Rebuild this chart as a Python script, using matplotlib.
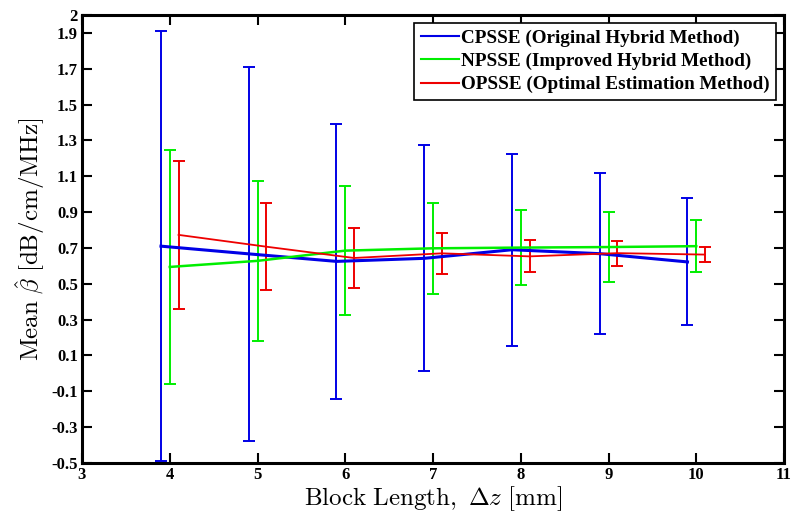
import matplotlib
matplotlib.use("Agg")
import matplotlib.pyplot as plt
from matplotlib.lines import Line2D
import numpy as np

plt.rcParams['mathtext.fontset'] = 'cm'
plt.rcParams['font.family'] = ['Liberation Serif', 'DejaVu Serif']

block_length = [4, 5, 6, 7, 8, 9, 10]

cpsse_mean = [0.71, 0.667, 0.625, 0.642, 0.69, 0.668, 0.622]
cpsse_std = [1.20, 1.044, 0.767, 0.63, 0.535, 0.45, 0.354]

npsse_mean = [0.594, 0.628, 0.685, 0.698, 0.702, 0.705, 0.71]
npsse_std = [0.653, 0.447, 0.361, 0.255, 0.21, 0.195, 0.146]

opsse_mean = [0.773, 0.707, 0.644, 0.67, 0.653, 0.671, 0.663]
opsse_std = [0.412, 0.242, 0.169, 0.115, 0.089, 0.07, 0.044]

series_names = ['CPSSE (Original Hybrid Method)',
                'NPSSE (Improved Hybrid Method)',
                'OPSSE (Optimal Estimation Method)']

y_ticks = [-0.5, -0.3, -0.1, 0.1, 0.3, 0.5, 0.7, 0.9, 1.1, 1.3, 1.5, 1.7, 1.9, 2]
y_tick_labels = ['-0.5', '-0.3', '-0.1', '0.1', '0.3', '0.5', '0.7', '0.9',
                 '1.1', '1.3', '1.5', '1.7', '1.9', '2']
x_ticks = [3, 4, 5, 6, 7, 8, 9, 10, 11]

fig = plt.figure(figsize=(8, 5.26), dpi=100)
ax = fig.add_axes([0.1025, 0.1198, 0.8775, 0.8517])

x = np.array(block_length, dtype=float)
offsets = [-0.1, 0.0, 0.1]
colors = ['#0000e6', '#00ee00', '#ee0000']
lws = [2.2, 1.8, 1.3]
means = [cpsse_mean, npsse_mean, opsse_mean]
stds = [cpsse_std, npsse_std, opsse_std]

for m, s, off, c, lw, name in zip(means, stds, offsets, colors, lws, series_names):
    ax.errorbar(x + off, m, yerr=s, color=c, lw=lw, elinewidth=1.4,
                capsize=4, capthick=1.4, label=name)

ax.set_xlim(3, 11)
ax.set_ylim(-0.5, 2)
ax.set_xticks(x_ticks)
ax.set_xticklabels([str(t) for t in x_ticks], fontweight='bold', fontsize=12)
ax.set_yticks(y_ticks)
ax.set_yticklabels(y_tick_labels, fontweight='bold', fontsize=12)
ax.tick_params(direction='in', length=7, width=1.5, top=True, right=True, pad=3)
for sp in ax.spines.values():
    sp.set_linewidth(2.2)

ax.set_xlabel(r'$\mathrm{Block\ Length,}\ \Delta z\ [\mathrm{mm}]$', fontsize=18, labelpad=1)
ax.set_ylabel(r'$\mathrm{Mean}\ \hat{\beta}\ [\mathrm{dB/cm/MHz}]$', fontsize=18, labelpad=3)

hl = [Line2D([], [], color=c, lw=1.5) for c in colors]
leg = ax.legend(hl, series_names, loc='upper right', fancybox=False, framealpha=1,
                edgecolor='black', prop={'weight': 'bold', 'size': 13.8},
                handlelength=2.0, handletextpad=0.1, borderpad=0.35,
                labelspacing=0.3, borderaxespad=0.4)
leg.get_frame().set_linewidth(1.2)

fig.savefig('out.png', dpi=100)
